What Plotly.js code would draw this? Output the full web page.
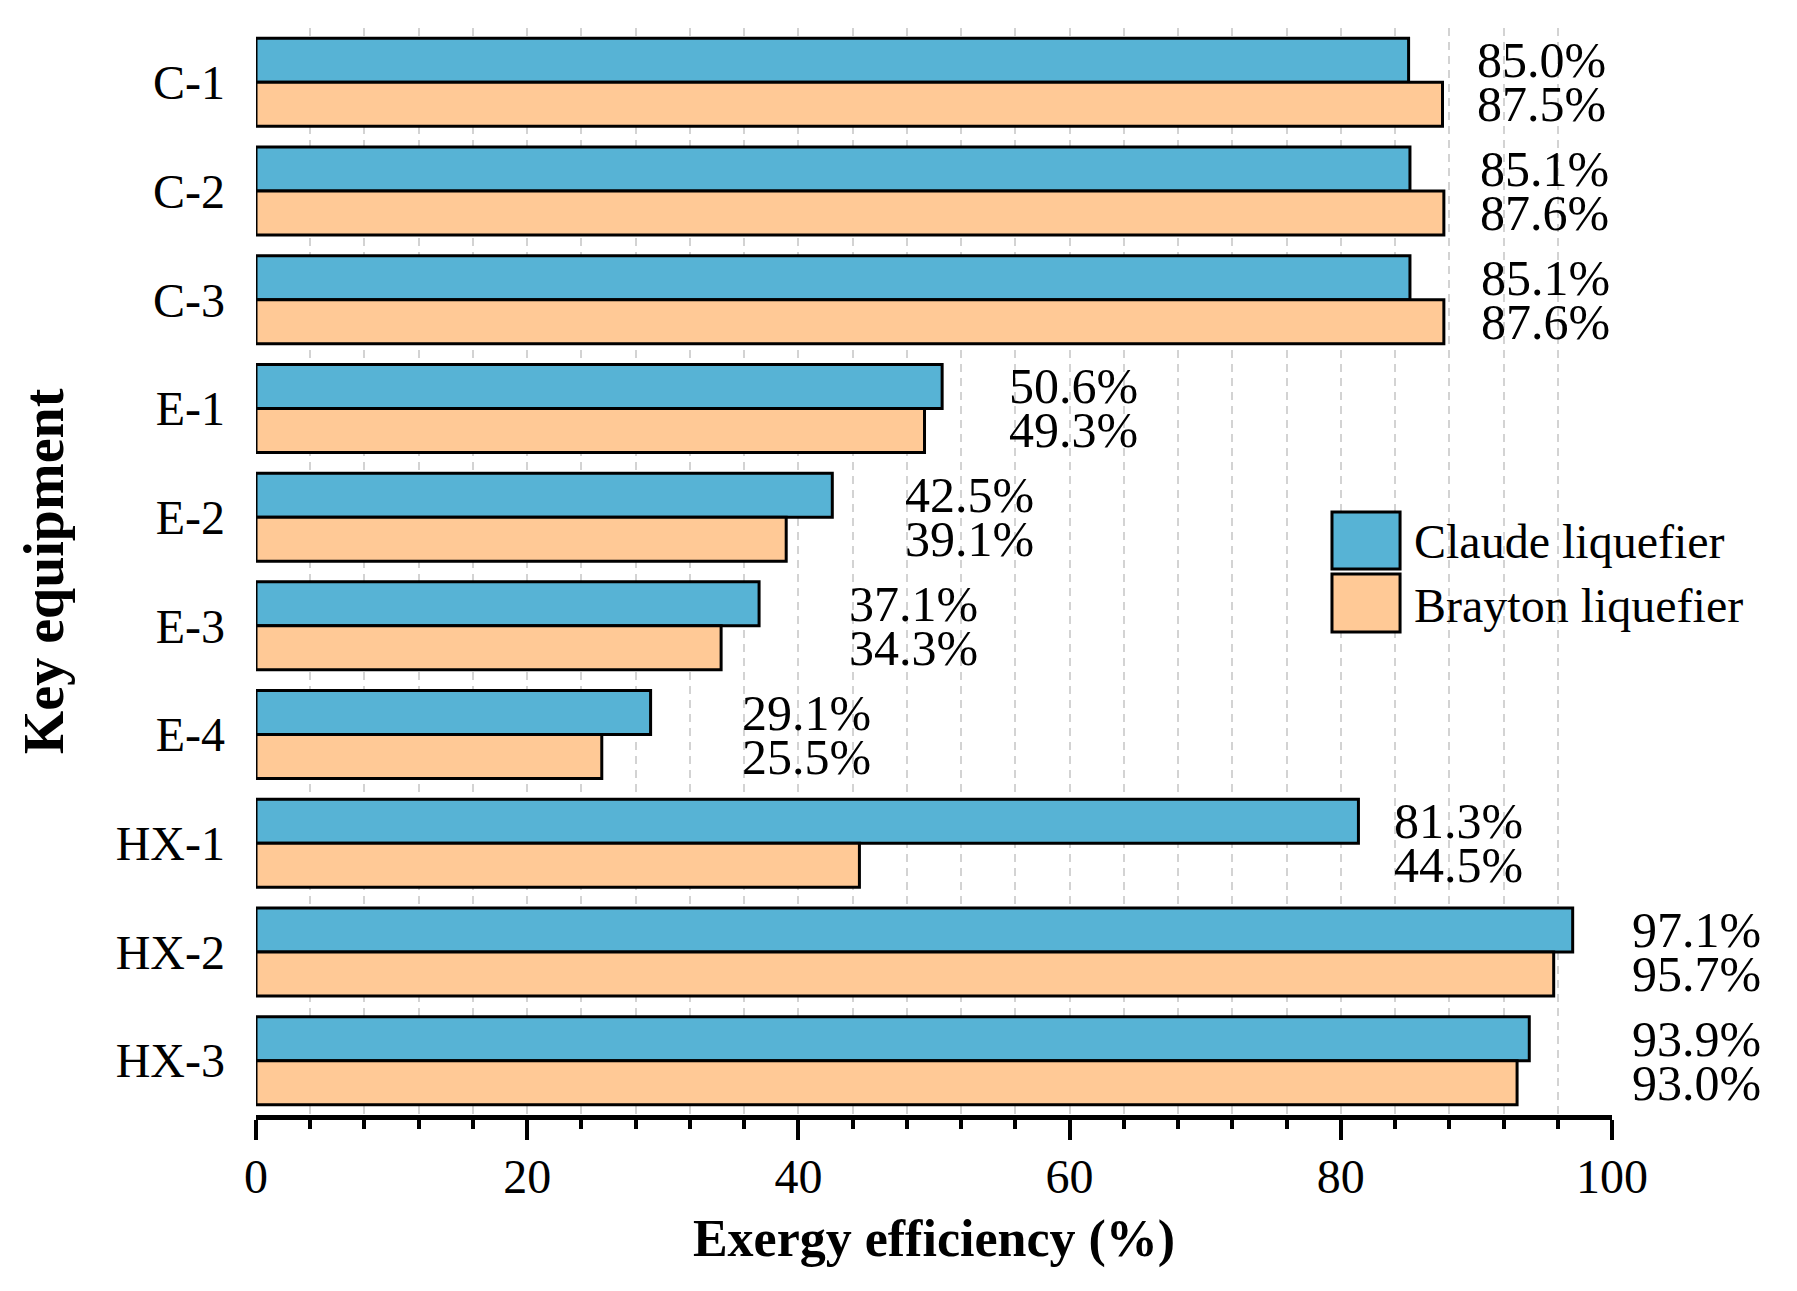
<!DOCTYPE html>
<html>
<head>
<meta charset="utf-8">
<script src="https://cdn.plot.ly/plotly-3.0.1.min.js"></script>
<style>html,body{margin:0;padding:0;background:#fff;}#chart{width:1797px;height:1291px;}</style>
</head>
<body>
<div id="chart"></div>
<script>
// ---- data ----
const categories = ['C-1', 'C-2', 'C-3', 'E-1', 'E-2', 'E-3', 'E-4', 'HX-1', 'HX-2', 'HX-3'];
const claude = [85.0, 85.1, 85.1, 50.6, 42.5, 37.1, 29.1, 81.3, 97.1, 93.9];
const brayton = [87.5, 87.6, 87.6, 49.3, 39.1, 34.3, 25.5, 44.5, 95.7, 93.0];
const seriesNames = ['Claude liquefier', 'Brayton liquefier'];
const xTickVals = [0, 20, 40, 60, 80, 100];

// ---- label placement (in x-axis units) ----
const labelX = [89.9, 90.1, 90.2, 55.4, 47.7, 43.6, 35.7, 83.8, 101.3, 101.3];

const FONT = '"Liberation Serif", "Times New Roman", Times, serif';
const colors = ['#57B3D5', '#FFC996'];
const bargap = 0.19;
const barOffset = (1 - bargap) / 4;
const xRange = [0, 100];

const traces = [claude, brayton].map((vals, k) => ({
  type: 'bar',
  orientation: 'h',
  name: seriesNames[k],
  x: vals,
  y: categories,
  marker: { color: colors[k], line: { color: '#000', width: 3 } },
  showlegend: false,
  hoverinfo: 'x+y'
}));

const annotations = [];
categories.forEach((c, i) => {
  [claude, brayton].forEach((vals, k) => {
    annotations.push({
      xref: 'paper', yref: 'y',
      x: (labelX[i] - xRange[0]) / (xRange[1] - xRange[0]),
      y: i + (k === 0 ? -barOffset : barOffset),
      text: vals[i].toFixed(1) + '%',
      showarrow: false,
      xanchor: 'left', yanchor: 'middle',
      font: { family: FONT, size: 50, color: '#000' }
    });
  });
});

// custom legend (large swatches)
const legendItems = [
  { y0: 0.5023, y1: 0.5547, ty: 0.528 },
  { y0: 0.4443, y1: 0.4977, ty: 0.469 }
];
const shapes = legendItems.map((it, k) => ({
  type: 'rect', xref: 'paper', yref: 'paper',
  x0: 0.7935, x1: 0.8437, y0: it.y0, y1: it.y1,
  fillcolor: colors[k], line: { color: '#000', width: 3 }
}));
legendItems.forEach((it, k) => {
  annotations.push({
    xref: 'paper', yref: 'paper', x: 0.8525, y: it.ty,
    text: seriesNames[k], showarrow: false,
    xanchor: 'left', yanchor: 'middle',
    font: { family: FONT, size: 48, color: '#000' }
  });
});

const layout = {
  width: 1797, height: 1291,
  margin: { l: 256, r: 185, t: 28, b: 176 },
  paper_bgcolor: '#fff', plot_bgcolor: '#fff',
  barmode: 'group', bargap: bargap, bargroupgap: 0,
  font: { family: FONT, size: 48, color: '#000' },
  xaxis: {
    range: xRange,
    tickvals: xTickVals,
    ticktext: xTickVals.map(String),
    showline: true, linecolor: '#000', linewidth: 5,
    ticks: 'outside', ticklen: 20, tickwidth: 4, tickcolor: '#000',
    ticklabelstandoff: -5,
    showgrid: true, gridcolor: '#d3d3d3', gridwidth: 2, griddash: '8px,6px',
    zeroline: false,
    minor: {
      dtick: 4, tick0: 0, ticks: 'outside', ticklen: 9, tickwidth: 4, tickcolor: '#000',
      showgrid: true, gridcolor: '#d3d3d3', gridwidth: 2, griddash: '8px,6px'
    },
    tickfont: { family: FONT, size: 48, color: '#000' },
    title: { text: '<b>Exergy efficiency (%)</b>', standoff: 20, font: { family: FONT, size: 52, color: '#000' } }
  },
  yaxis: {
    type: 'category',
    categoryorder: 'array', categoryarray: categories,
    range: [categories.length - 0.5, -0.5],
    showline: false, showgrid: false, zeroline: false,
    ticks: '', ticklabelstandoff: 30,
    tickfont: { family: FONT, size: 48, color: '#000' },
    title: { text: '<b>Key equipment</b>', standoff: 34, font: { family: FONT, size: 56, color: '#000' } }
  },
  shapes: shapes,
  annotations: annotations
};

Plotly.newPlot('chart', traces, layout, { displayModeBar: false, responsive: false });
</script>
</body>
</html>
